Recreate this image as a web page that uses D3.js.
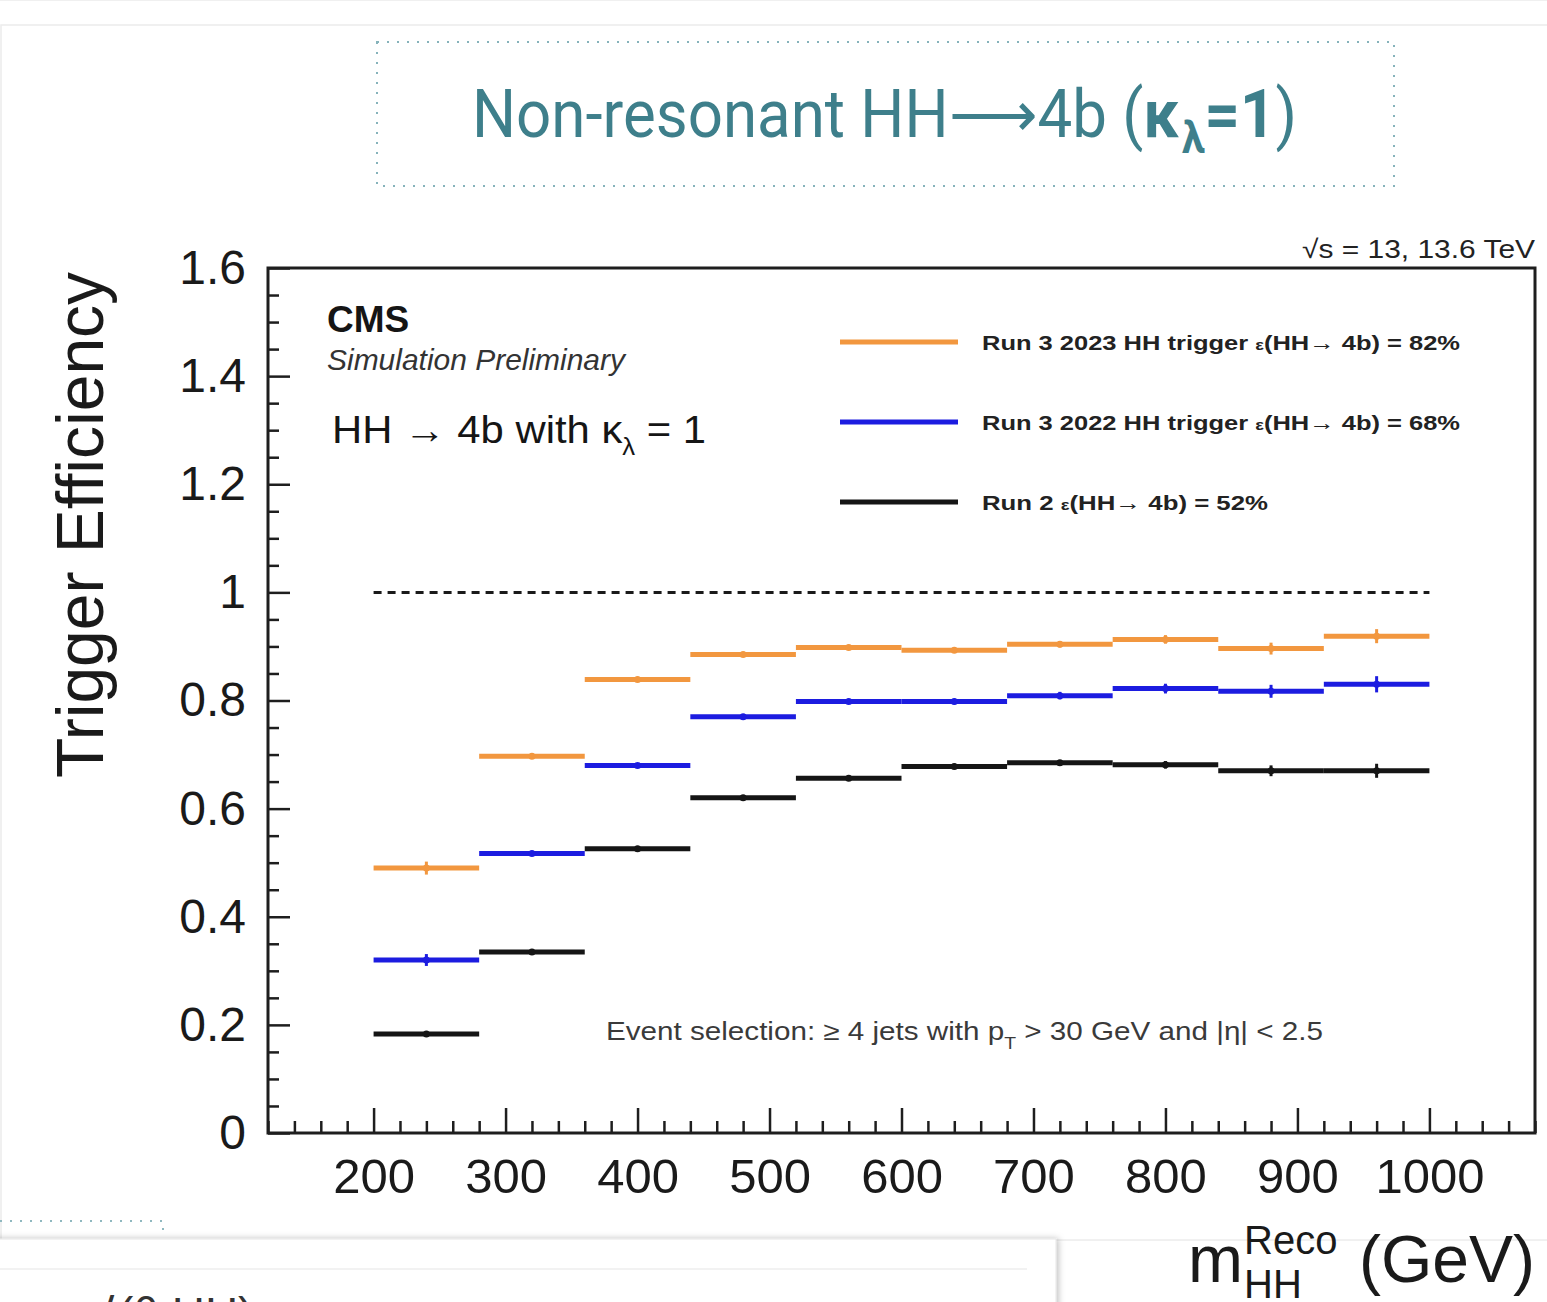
<!DOCTYPE html>
<html>
<head>
<meta charset="utf-8">
<script src="https://cdn.jsdelivr.net/npm/d3@7"></script>
<style>
  html, body { margin: 0; padding: 0; background: #ffffff; }
  svg { display: block; }
</style>
</head>
<body>
<svg id="chart" width="1547" height="1302"></svg>
<script>
// ---- data: trigger efficiency per reconstructed m_HH bin (80 GeV wide) ----
const binEdges = [200, 280, 360, 440, 520, 600, 680, 760, 840, 920, 1000];

const run3_2023 = [0.490, 0.697, 0.839, 0.885, 0.898, 0.893, 0.904, 0.913, 0.896, 0.919];
const run3_2023Err = [0.012, 0.004, 0.004, 0.004, 0.004, 0.005, 0.006, 0.008, 0.011, 0.013];

const run3_2022 = [0.320, 0.517, 0.680, 0.770, 0.798, 0.798, 0.809, 0.822, 0.817, 0.830];
const run3_2022Err = [0.011, 0.004, 0.004, 0.004, 0.004, 0.005, 0.007, 0.009, 0.012, 0.015];

const run2 = [0.183, 0.335, 0.526, 0.620, 0.656, 0.678, 0.685, 0.681, 0.670, 0.670];
const run2Err = [0.003, 0.003, 0.003, 0.003, 0.004, 0.005, 0.005, 0.007, 0.010, 0.013];

const xMajorTicks = [200, 300, 400, 500, 600, 700, 800, 900, 1000];
const yMajorTicks = [0, 0.2, 0.4, 0.6, 0.8, 1, 1.2, 1.4, 1.6];
const yTickLabels = ["0", "0.2", "0.4", "0.6", "0.8", "1", "1.2", "1.4", "1.6"];

const legendEntries = [
  { name: "Run 3 2023 HH trigger", eff: "82%", color: "#f2973f" },
  { name: "Run 3 2022 HH trigger", eff: "68%", color: "#1c1ce0" },
  { name: "Run 2", eff: "52%", color: "#151515" }
];

// ---- drawing ----
const svg = d3.select("#chart");
const font = "'Liberation Sans', Arial, Helvetica, sans-serif";

// slide panel outline
svg.append("rect").attr("x", 1).attr("y", 25).attr("width", 1560).attr("height", 1215)
  .attr("fill", "none").attr("stroke", "#ececec").attr("stroke-width", 1.5);
svg.append("line").attr("x1", 0).attr("x2", 1547).attr("y1", 0.5).attr("y2", 0.5)
  .attr("stroke", "#f0f0f0").attr("stroke-width", 1);

// title box
const teal = "#3e7f8b";
svg.append("rect").attr("x", 377).attr("y", 42).attr("width", 1017).attr("height", 144)
  .attr("fill", "none").attr("stroke", "#86b3bb").attr("stroke-width", 2)
  .attr("stroke-dasharray", "2 8");
const title = svg.append("text").attr("x", 472).attr("y", 137)
  .attr("font-family", "Roboto, 'Liberation Sans', Arial, sans-serif")
  .attr("font-size", 66).attr("fill", teal)
  .attr("textLength", 825).attr("lengthAdjust", "spacingAndGlyphs");
title.append("tspan").text("Non-resonant HH\u27F64b (");
title.append("tspan").attr("font-weight", "bold").text("\u03BA");
title.append("tspan").attr("font-weight", "bold").attr("font-size", 44).attr("dx", 2).attr("dy", 16).text("\u03BB");
title.append("tspan").attr("font-weight", "bold").attr("dy", -16).text("=1");
title.append("tspan").text(")");

// plot frame geometry
const x0 = 268, x1 = 1535, y0 = 268, y1 = 1133;
const x = d3.scaleLinear().domain([120, 1080]).range([x0, x1]);
const y = d3.scaleLinear().domain([0, 1.6]).range([y1, y0]);

const axisColor = "#1e1e1e";

// x axis ticks (inward) and labels
const xMinor = d3.range(120, 1080.01, 20).filter(v => !xMajorTicks.includes(v));
const gxMinor = svg.append("g").attr("transform", `translate(0,${y1})`)
  .call(d3.axisBottom(x).tickValues(xMinor).tickSize(-12).tickFormat(""));
const gx = svg.append("g").attr("transform", `translate(0,${y1})`)
  .call(d3.axisBottom(x).tickValues(xMajorTicks).tickSize(-25).tickPadding(25).tickFormat(d3.format("d")));
[gxMinor, gx].forEach(g => {
  g.select(".domain").remove();
  g.selectAll("line").attr("stroke", axisColor).attr("stroke-width", 2.5);
});
gx.selectAll("text").attr("font-family", font).attr("font-size", 49).attr("fill", "#1a1a1a");

// y axis ticks (inward) and labels
const yMinor = d3.range(0, 1.6001, 0.05).filter(v => !yMajorTicks.some(m => Math.abs(m - v) < 1e-6));
const gyMinor = svg.append("g").attr("transform", `translate(${x0},0)`)
  .call(d3.axisLeft(y).tickValues(yMinor).tickSize(-11).tickFormat(""));
const gy = svg.append("g").attr("transform", `translate(${x0},0)`)
  .call(d3.axisLeft(y).tickValues(yMajorTicks).tickSize(-22).tickPadding(22)
    .tickFormat((d, i) => yTickLabels[i]));
[gyMinor, gy].forEach(g => {
  g.select(".domain").remove();
  g.selectAll("line").attr("stroke", axisColor).attr("stroke-width", 2.5);
});
gy.selectAll("text").attr("font-family", font).attr("font-size", 48).attr("fill", "#1a1a1a");

// frame
svg.append("rect").attr("x", x0).attr("y", y0).attr("width", x1 - x0).attr("height", y1 - y0)
  .attr("fill", "none").attr("stroke", axisColor).attr("stroke-width", 3);

// axis titles
svg.append("text")
  .attr("transform", `translate(103,${(270 + 780) / 2}) rotate(-90)`)
  .attr("text-anchor", "middle").attr("font-family", font).attr("font-size", 66)
  .attr("fill", "#1a1a1a").text("Trigger Efficiency");

const xTitle = svg.append("g").attr("font-family", font).attr("fill", "#1a1a1a");
xTitle.append("text").attr("x", 1188).attr("y", 1282).attr("font-size", 66).text("m");
xTitle.append("text").attr("x", 1244).attr("y", 1254).attr("font-size", 40).text("Reco");
xTitle.append("text").attr("x", 1244).attr("y", 1298).attr("font-size", 40).text("HH");
xTitle.append("text").attr("x", 1535).attr("y", 1282).attr("text-anchor", "end")
  .attr("font-size", 66).text("(GeV)");

// reference line at efficiency = 1
svg.append("line").attr("x1", x(200)).attr("x2", x(1000)).attr("y1", y(1)).attr("y2", y(1))
  .attr("stroke", "#1a1a1a").attr("stroke-width", 3).attr("stroke-dasharray", "8 6");

// histogram series: horizontal bin segments + vertical stat error bars
const series = [
  { values: run2, errs: run2Err, color: legendEntries[2].color },
  { values: run3_2022, errs: run3_2022Err, color: legendEntries[1].color },
  { values: run3_2023, errs: run3_2023Err, color: legendEntries[0].color }
];
series.forEach(s => {
  const g = svg.append("g");
  const bins = s.values.map((v, i) => ({
    lo: binEdges[i], hi: binEdges[i + 1], c: (binEdges[i] + binEdges[i + 1]) / 2, v, e: s.errs[i]
  }));
  g.selectAll("line.bin").data(bins).join("line").attr("class", "bin")
    .attr("x1", d => x(d.lo)).attr("x2", d => x(d.hi))
    .attr("y1", d => y(d.v)).attr("y2", d => y(d.v))
    .attr("stroke", s.color).attr("stroke-width", 5);
  g.selectAll("line.err").data(bins).join("line").attr("class", "err")
    .attr("x1", d => x(d.c)).attr("x2", d => x(d.c))
    .attr("y1", d => y(d.v - d.e)).attr("y2", d => y(d.v + d.e))
    .attr("stroke", s.color).attr("stroke-width", 3);
  g.selectAll("circle").data(bins).join("circle")
    .attr("cx", d => x(d.c)).attr("cy", d => y(d.v)).attr("r", 3.5)
    .attr("fill", s.color);
});

// CMS label block
svg.append("text").attr("x", 327).attr("y", 332).attr("font-family", font)
  .attr("font-weight", "bold").attr("font-size", 37).attr("fill", "#151515").text("CMS");
svg.append("text").attr("x", 327).attr("y", 370).attr("font-family", font)
  .attr("font-style", "italic").attr("font-size", 29).attr("fill", "#333")
  .attr("textLength", 298).attr("lengthAdjust", "spacingAndGlyphs").text("Simulation Preliminary");
const proc = svg.append("text").attr("x", 332).attr("y", 443).attr("font-family", font)
  .attr("font-size", 39).attr("fill", "#151515")
  .attr("textLength", 374).attr("lengthAdjust", "spacingAndGlyphs");
proc.append("tspan").text("HH \u2192 4b with \u03BA");
proc.append("tspan").attr("font-size", 24).attr("dy", 12).text("\u03BB");
proc.append("tspan").attr("dy", -12).text(" = 1");

svg.append("text").attr("x", 1535).attr("y", 258).attr("text-anchor", "end")
  .attr("font-family", font).attr("font-size", 26).attr("fill", "#222")
  .attr("textLength", 233).attr("lengthAdjust", "spacingAndGlyphs")
  .text("\u221As = 13, 13.6 TeV");

// legend
const legendY = [342, 422, 502];
const legendLen = [478, 478, 286];
legendEntries.forEach((d, i) => {
  svg.append("line").attr("x1", 840).attr("x2", 958).attr("y1", legendY[i]).attr("y2", legendY[i])
    .attr("stroke", d.color).attr("stroke-width", 5);
  const t = svg.append("text").attr("x", 982).attr("y", legendY[i] + 8)
    .attr("font-family", font).attr("font-weight", "bold").attr("font-size", 21)
    .attr("fill", "#222").attr("textLength", legendLen[i]).attr("lengthAdjust", "spacingAndGlyphs");
  t.append("tspan").text(d.name + "  ");
  t.append("tspan").attr("font-size", 15).text("\u03B5");
  t.append("tspan").text("(HH\u2192 4b) = " + d.eff);
});

// event selection note
const sel = svg.append("text").attr("x", 606).attr("y", 1040).attr("font-family", font)
  .attr("font-size", 26).attr("fill", "#3a3a3a")
  .attr("textLength", 717).attr("lengthAdjust", "spacingAndGlyphs");
sel.append("tspan").text("Event selection: \u2265 4 jets with p");
sel.append("tspan").attr("font-size", 17).attr("dy", 9).text("T");
sel.append("tspan").attr("dy", -9).text(" > 30 GeV and |\u03B7| < 2.5");

// lower slide fragments
svg.append("path").attr("d", "M0,1221 H163 V1238").attr("fill", "none")
  .attr("stroke", "#8fb8bf").attr("stroke-width", 2).attr("stroke-dasharray", "2 8");
const defs = svg.append("defs");
const f = defs.append("filter").attr("id", "cardShadow").attr("x", "-5%").attr("y", "-20%")
  .attr("width", "110%").attr("height", "150%");
f.append("feDropShadow").attr("dx", 2).attr("dy", 0).attr("stdDeviation", 3)
  .attr("flood-color", "#000").attr("flood-opacity", 0.25);
svg.append("rect").attr("x", -10).attr("y", 1239).attr("width", 1066).attr("height", 100)
  .attr("fill", "#fff").attr("stroke", "#e6e6e6").attr("filter", "url(#cardShadow)");
svg.append("line").attr("x1", 0).attr("x2", 1027).attr("y1", 1269).attr("y2", 1269)
  .attr("stroke", "#eeeeee").attr("stroke-width", 1.5);
svg.append("text").attr("x", 100).attr("y", 1330).attr("font-family", font)
  .attr("font-size", 46).attr("fill", "#333").text("\u27E8(\u03B8 HH)");
</script>
</body>
</html>
